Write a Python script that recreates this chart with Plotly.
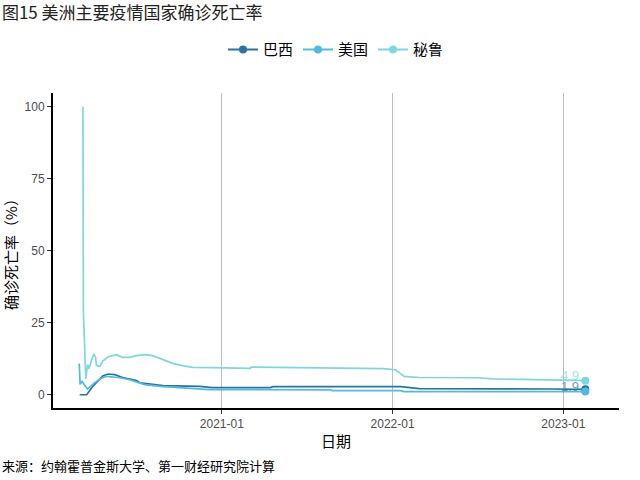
import plotly.graph_objects as go

# Case fatality rate (%)
peru_dates = [
    "2020-03-10", "2020-03-11", "2020-03-13", "2020-03-16", "2020-03-20", "2020-03-23",
    "2020-03-28", "2020-04-02", "2020-04-06", "2020-04-08", "2020-04-15", "2020-04-22",
    "2020-05-03", "2020-05-21", "2020-06-03", "2020-06-18", "2020-07-03", "2020-07-20",
    "2020-08-06", "2020-08-28", "2020-09-18", "2020-10-09", "2020-10-31", "2020-12-11",
    "2021-03-03", "2021-03-04", "2021-04-28", "2021-08-15", "2021-12-12", "2022-01-07",
    "2022-01-18", "2022-01-26", "2022-02-27", "2022-07-05", "2022-08-02", "2022-11-25",
    "2023-02-17",
]
peru_cfr = [
    100, 28.5, 19.5, 5.5, 10.5, 9.0,
    11.8, 14.2, 13.0, 10.1, 9.8, 11.8,
    13.2, 13.9, 13.0, 13.0, 13.6, 13.9,
    13.6, 12.2, 10.9, 10.1, 9.5, 9.4,
    9.2, 9.6, 9.5, 9.4, 9.1, 8.7,
    7.4, 6.4, 6.0, 5.9, 5.5, 5.1,
    4.9,
]

brazil_dates = [
    "2020-03-03", "2020-03-18", "2020-04-01", "2020-04-22", "2020-05-03", "2020-05-17",
    "2020-06-03", "2020-07-03", "2020-07-10", "2020-08-28", "2020-11-15", "2020-12-11",
    "2021-04-15", "2021-04-20", "2022-01-18", "2022-02-08", "2022-02-27", "2022-12-06",
    "2023-02-17",
]
brazil_cfr = [
    0, 0, 3.1, 6.6, 7.2, 7.0,
    6.0, 4.9, 4.1, 3.2, 2.9, 2.5,
    2.5, 2.8, 2.8, 2.3, 2.1, 2.0,
    1.9,
]

us_dates = [
    "2020-03-02", "2020-03-04", "2020-03-08", "2020-03-20", "2020-04-01", "2020-04-15",
    "2020-04-29", "2020-05-13", "2020-05-28", "2020-06-18", "2020-07-03", "2020-07-20",
    "2020-08-22", "2020-11-15", "2020-12-05", "2021-08-21", "2021-08-25", "2022-01-18",
    "2022-01-25", "2023-02-17",
]
us_cfr = [
    10.8, 3.6, 4.6, 2.0, 3.8, 5.5,
    6.4, 6.2, 5.9, 5.2, 4.3, 3.5,
    2.9, 2.2, 1.8, 1.7, 1.4, 1.4,
    1.1, 1.1,
]

series = [
    ("巴西", brazil_dates, brazil_cfr, "#2f729b"),
    ("美国", us_dates, us_cfr, "#52b9e3"),
    ("秘鲁", peru_dates, peru_cfr, "#7fd6df"),
]

FONT = "Liberation Sans, Arial, Noto Sans CJK SC"
CJK = "Noto Sans CJK SC"

fig = go.Figure()

for name, dates, vals, color in series:
    # the full line
    fig.add_trace(
        go.Scatter(
            x=dates,
            y=vals,
            mode="lines",
            name=name,
            legendgroup=name,
            showlegend=False,
            line=dict(color=color, width=1.7),
        )
    )
    # end point, also carries the legend entry
    fig.add_trace(
        go.Scatter(
            x=dates[-1:],
            y=vals[-1:],
            mode="lines+markers",
            name=name,
            legendgroup=name,
            line=dict(color=color, width=2),
            marker=dict(color=color, size=8),
        )
    )

# End labels (US label is hidden under Brazil's in the original)
label_shift = {"巴西": 3, "秘鲁": 5}
for name, dates, vals, color in series:
    if name not in label_shift:
        continue
    fig.add_annotation(
        x="2023-01-16",
        y=vals[-1],
        text=f"{vals[-1]:.1f}",
        showarrow=False,
        font=dict(family=FONT, size=13, color=color),
        opacity=0.7,
        yshift=label_shift[name],
    )

# Source note
fig.add_annotation(
    xref="paper",
    yref="paper",
    x=-0.0936,
    y=-0.184,
    xanchor="left",
    yanchor="middle",
    text="来源：约翰霍普金斯大学、第一财经研究院计算",
    showarrow=False,
    font=dict(family=CJK, size=13, color="black"),
)

fig.update_layout(
    width=640,
    height=480,
    margin=dict(l=53, r=21, t=93, b=72, autoexpand=False),
    plot_bgcolor="white",
    paper_bgcolor="white",
    title=dict(
        text="图15 美洲主要疫情国家确诊死亡率",
        x=0.003,
        xref="container",
        xanchor="left",
        y=0.972,
        yanchor="middle",
        font=dict(family=CJK, size=17, color="#222222"),
    ),
    legend=dict(
        orientation="h",
        x=0.5,
        xanchor="center",
        y=1.137,
        yanchor="middle",
        font=dict(family=CJK, size=15, color="black"),
        itemwidth=30,
    ),
)

fig.update_xaxes(
    range=["2020-01-06", "2023-04-30"],
    tickvals=["2021-01-01", "2022-01-01", "2023-01-01"],
    ticktext=["2021-01", "2022-01", "2023-01"],
    showgrid=True,
    gridcolor="#bebebe",
    gridwidth=1,
    showline=True,
    linecolor="black",
    linewidth=2,
    ticks="outside",
    ticklen=4,
    tickcolor="#333333",
    tickfont=dict(family=FONT, size=12, color="#4d4d4d"),
    title=dict(text="日期", font=dict(family=CJK, size=15, color="black"), standoff=6),
    zeroline=False,
    automargin=False,
)

fig.update_yaxes(
    range=[-4.6, 104.8],
    tickvals=[0, 25, 50, 75, 100],
    showgrid=False,
    showline=True,
    linecolor="black",
    linewidth=2,
    ticks="outside",
    ticklen=4,
    tickcolor="#333333",
    tickfont=dict(family=FONT, size=12, color="#4d4d4d"),
    title=dict(text="确诊死亡率（%）", font=dict(family=CJK, size=15, color="black"), standoff=8),
    zeroline=False,
    automargin=False,
)

# drop the default page margin so the figure sits at the window's corner
fig.write_html(
    "out.html",
    config={"displayModeBar": False},
    post_script="document.body.style.margin='0';",
)
